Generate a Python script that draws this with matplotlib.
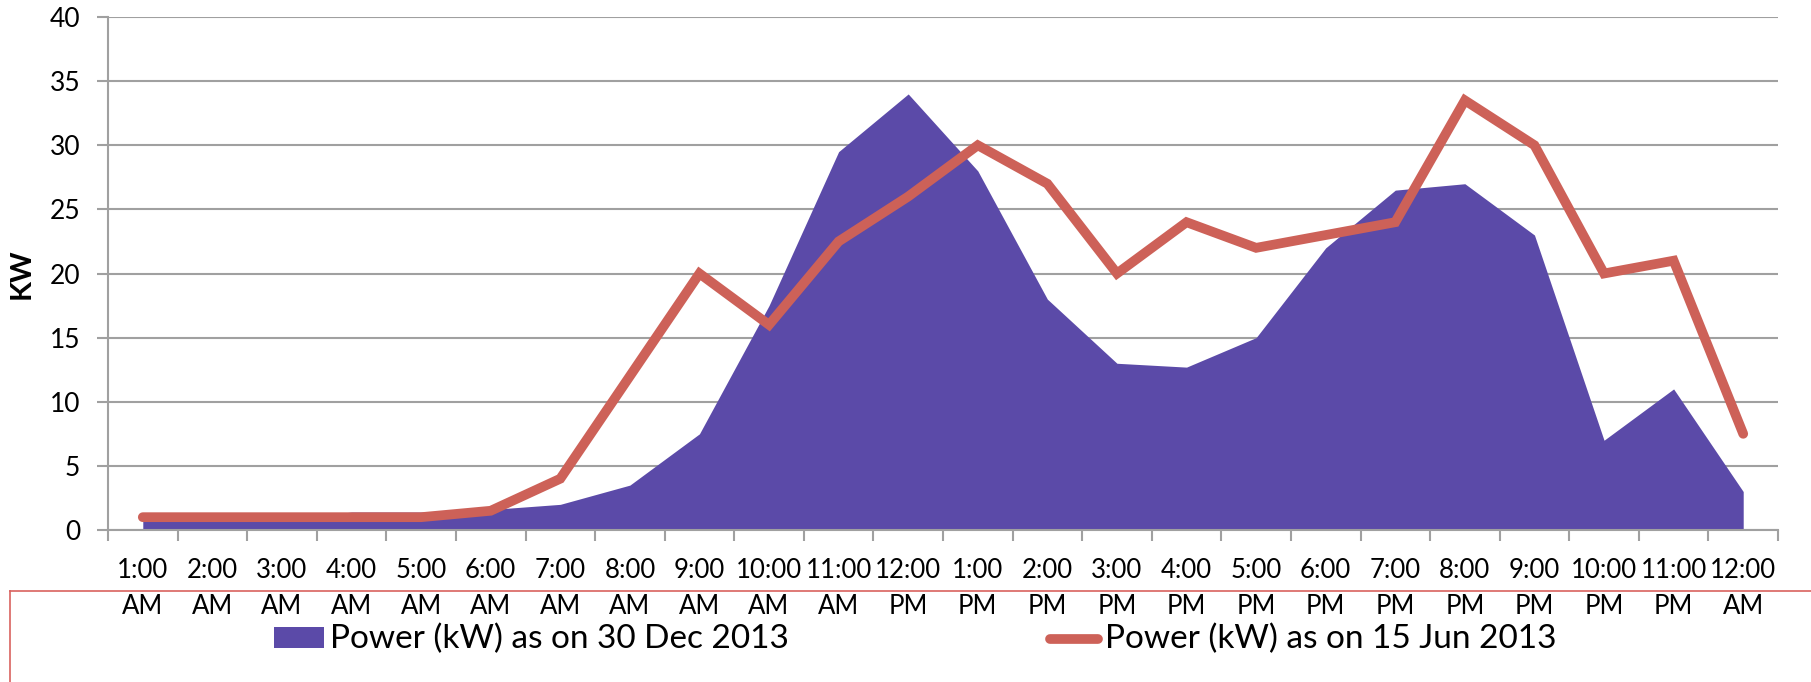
import numpy as np
import matplotlib
matplotlib.use("Agg")
import matplotlib.pyplot as plt
from matplotlib.lines import Line2D
from matplotlib.patches import Rectangle

# hourly load profile, two days
hours = ["1:00\nAM", "2:00\nAM", "3:00\nAM", "4:00\nAM", "5:00\nAM", "6:00\nAM",
         "7:00\nAM", "8:00\nAM", "9:00\nAM", "10:00\nAM", "11:00\nAM", "12:00\nPM",
         "1:00\nPM", "2:00\nPM", "3:00\nPM", "4:00\nPM", "5:00\nPM", "6:00\nPM",
         "7:00\nPM", "8:00\nPM", "9:00\nPM", "10:00\nPM", "11:00\nPM", "12:00\nAM"]
power_dec = [0.8, 0.8, 0.8, 1.4, 1.4, 1.6, 2.0, 3.5, 7.5, 17.5, 29.5, 34.0,
             28.0, 18.0, 13.0, 12.7, 15.0, 22.0, 26.5, 27.0, 23.0, 7.0, 11.0, 3.0]
power_jun = [1.0, 1.0, 1.0, 1.0, 1.0, 1.5, 4.0, 12.0, 20.0, 16.0, 22.5, 26.0,
             30.0, 27.0, 20.0, 24.0, 22.0, 23.0, 24.0, 33.5, 30.0, 20.0, 21.0, 7.5]
label_dec = "Power (kW) as on 30 Dec 2013"
label_jun = "Power (kW) as on 15 Jun 2013"

PURPLE = "#5B4AA8"
RED = "#CD6158"
GRID = "#A0A0A0"
FONT = ["Lato", "DejaVu Sans"]

W, H = 1811, 682
fig = plt.figure(figsize=(W / 100, H / 100), dpi=100)
ax = fig.add_axes([108 / W, 1 - 530 / H, 1670 / W, 513 / H])

x = np.arange(len(hours))
ax.fill_between(x, 0, power_dec, color=PURPLE, lw=0, zorder=2)
ax.plot(x, power_jun, color=RED, lw=7, solid_capstyle="round",
        solid_joinstyle="miter", zorder=3)

ax.set_xlim(-0.5, len(hours) - 0.5)
ax.set_ylim(0, 40)
ax.set_yticks(np.arange(0, 41, 5))
ax.yaxis.grid(True, color=GRID, lw=1.5)
ax.set_axisbelow(True)

# labels under each hour, tick marks on the category boundaries
ax.set_xticks(x)
ax.set_xticklabels(hours, fontsize=18.5, family=FONT, linespacing=1.55)
ax.set_xticks(np.arange(-0.5, len(hours)), minor=True)
ax.tick_params(axis="x", which="major", length=0, pad=20)
ax.tick_params(axis="x", which="minor", length=8, width=1.5, color=GRID)
ax.tick_params(axis="y", length=8, width=1.5, color=GRID, labelsize=19, pad=12)
for t in ax.get_yticklabels():
    t.set_family(FONT)

for side in ("top", "right"):
    ax.spines[side].set_visible(False)
for side in ("left", "bottom"):
    ax.spines[side].set_color(GRID)
    ax.spines[side].set_linewidth(1.5)

ax.set_ylabel("KW", fontsize=21, fontweight="bold", family=FONT)
ax.yaxis.set_label_coords(-(108 - 22) / 1670, 0.5)
ax.yaxis.label.set_va("center")

# legend drawn by hand in figure pixels
def fx(px):
    return px / W

def fy(py):
    return 1 - py / H

fig.add_artist(Line2D([fx(10), 1.0], [fy(591), fy(591)], color="#D9625F", lw=1.2))
fig.add_artist(Line2D([fx(10), fx(10)], [fy(591), 0.0], color="#D9625F", lw=1.2))

fig.add_artist(Rectangle((fx(274), fy(648)), fx(50), 21 / H, color=PURPLE, lw=0))
fig.text(fx(330), fy(639), label_dec, fontsize=24, family=FONT, va="center")
fig.add_artist(Line2D([fx(1050), fx(1098)], [fy(639), fy(639)], color=RED, lw=7,
                      solid_capstyle="round"))
fig.text(fx(1105), fy(639), label_jun, fontsize=24, family=FONT, va="center")

fig.savefig("out.png", dpi=100)
